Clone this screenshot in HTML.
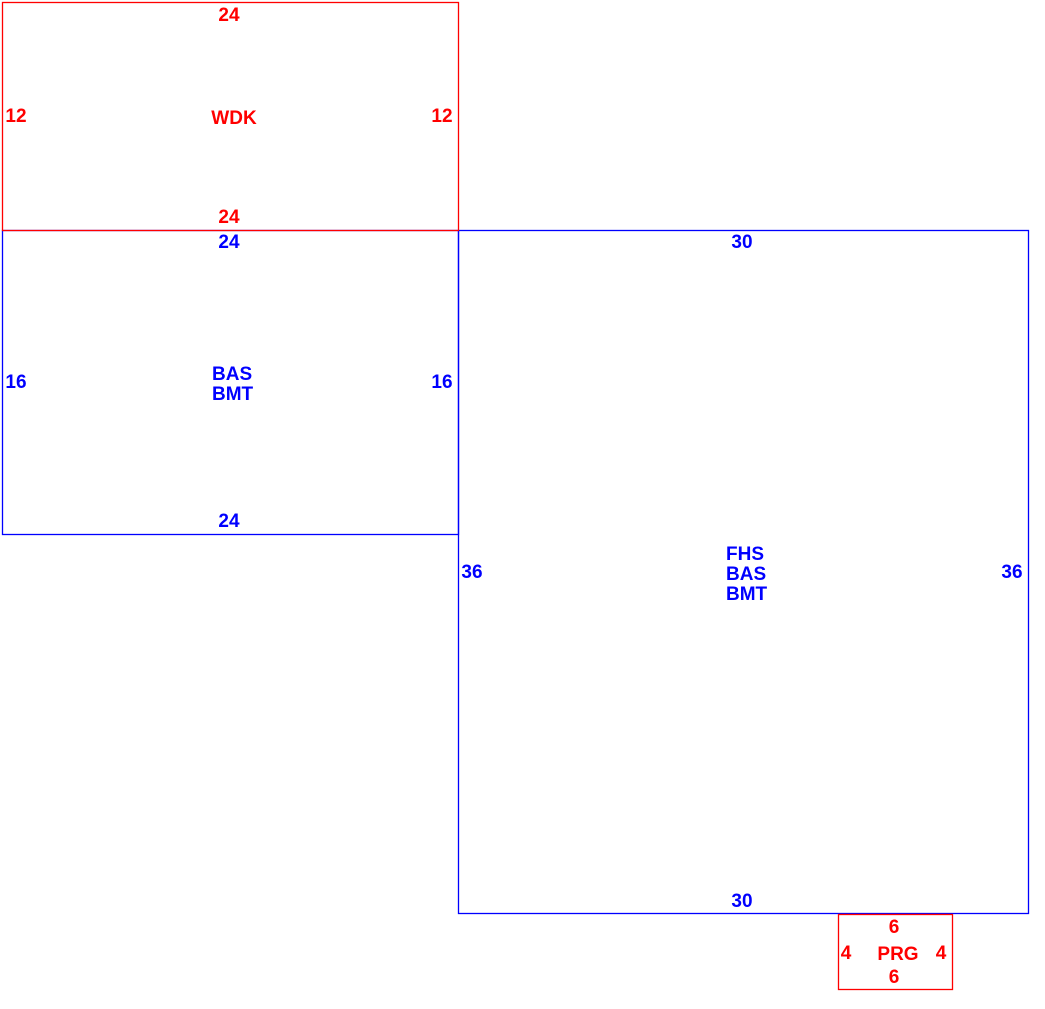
<!DOCTYPE html>
<html><head><meta charset="utf-8"><style>
html,body{margin:0;padding:0;background:#fff;}
svg{display:block;}
text{font-family:"Liberation Sans",Arial,sans-serif;font-weight:bold;font-size:19px;}
.r{fill:#f00;} .b{fill:#00f;}
</style></head><body>
<svg width="1045" height="1009" viewBox="0 0 1045 1009">
<g fill="none" stroke-width="1.3">
<rect x="2.5" y="230.5" width="456" height="304" stroke="#00f"/>
<rect x="458.5" y="230.5" width="570" height="683" stroke="#00f"/>
<rect x="2.5" y="2.5" width="456" height="228" stroke="#f00"/>
<rect x="838.5" y="914.5" width="114" height="75" stroke="#f00"/>
</g>
<g text-anchor="middle">
<text class="r" x="229" y="21">24</text>
<text class="r" x="16" y="122">12</text>
<text class="r" x="442" y="122">12</text>
<text class="r" x="234" y="124">WDK</text>
<text class="r" x="229" y="223">24</text>
<text class="b" x="229" y="248">24</text>
<text class="b" x="16" y="388">16</text>
<text class="b" x="442" y="388">16</text>
<text class="b" x="229" y="527">24</text>
<text class="b" x="742" y="248">30</text>
<text class="b" x="472" y="578">36</text>
<text class="b" x="1012" y="578">36</text>
<text class="b" x="742" y="907">30</text>
<text class="r" x="894" y="933">6</text>
<text class="r" x="846" y="959">4</text>
<text class="r" x="898" y="960">PRG</text>
<text class="r" x="941" y="959">4</text>
<text class="r" x="894" y="983">6</text>
</g>
<text class="b" x="212" y="380">BAS</text>
<text class="b" x="212" y="400">BMT</text>
<text class="b" x="726" y="560">FHS</text>
<text class="b" x="726" y="580">BAS</text>
<text class="b" x="726" y="600">BMT</text>
</svg>
</body></html>
